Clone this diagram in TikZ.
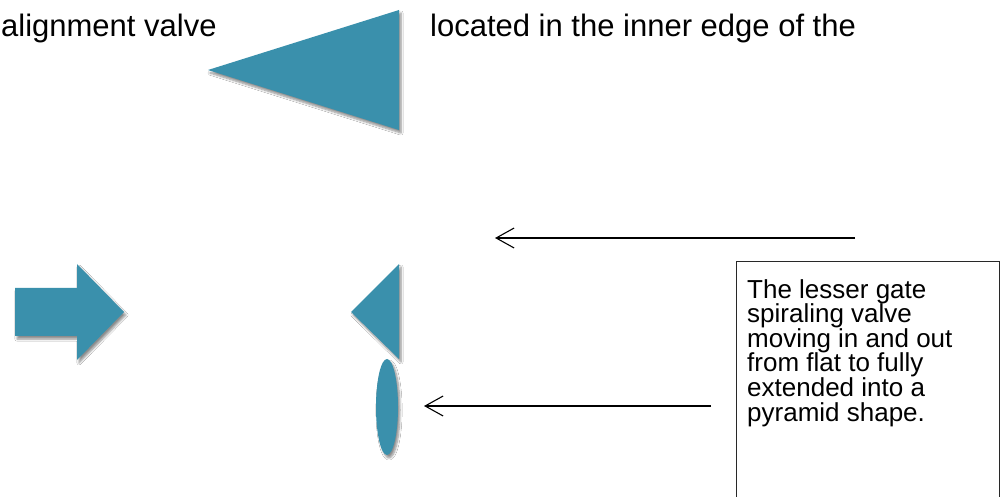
\documentclass[tikz,border=0pt]{standalone}
\usepackage{fontspec}
\setmainfont{Liberation Sans}
\usetikzlibrary{arrows.meta,shadows.blur}
\definecolor{teal1}{RGB}{58,144,172}
\definecolor{boxline}{RGB}{40,40,40}
\tikzset{
  shape3d/.style={fill=teal1, blur shadow={shadow xshift=2pt, shadow yshift=-3pt, shadow blur steps=6, shadow opacity=45}},
  pointer/.style={draw=black, line width=1.2pt, -{Straight Barb[length=18pt,width=20pt,line width=1.1pt]}},
  bigtext/.style={inner sep=0pt, font=\fontsize{31}{36}\selectfont},
  boxtext/.style={inner sep=0pt, align=left, font=\fontsize{26}{24.6}\selectfont},
}
\begin{document}
\begin{tikzpicture}[x=1pt,y=-1pt]
\useasboundingbox[fill=white] (0,0) rectangle (1005,497);
% texts at top
\node[bigtext, anchor=base west] (t1) at (1,37) {alignment valve};
\node[bigtext, anchor=base west] (t2) at (430,37) {located in the inner edge of the};
% large triangle
\path[shape3d] (208,70) -- (399,10) -- (399,130) -- cycle;
% block arrow
\path[shape3d] (15,288) -- (77,288) -- (77,264) -- (124,312) -- (77,360) -- (77,336) -- (15,336) -- cycle;
% small triangle
\path[shape3d] (351,312) -- (399,264) -- (399,359) -- cycle;
% ellipse
\path[shape3d] (387,407) ellipse [x radius=11, y radius=48];
% text box
\draw[boxline, line width=1pt] (736,262) -- (736,520) (736,262) -- (999,262) -- (999,520);
\node[boxtext, anchor=north west] (box) at (747,279) {The lesser gate\\spiraling valve\\moving in and out\\from flat to fully\\extended into a\\pyramid shape.};
% pointer arrows
\coordinate (a1s) at (855,238);
\coordinate (a1e) at (495,238);
\coordinate (a2s) at (711,406);
\coordinate (a2e) at (424,406);
\draw[pointer] (a1s) -- (a1e);
\draw[pointer] (a2s) -- (a2e);
\end{tikzpicture}
\end{document}
